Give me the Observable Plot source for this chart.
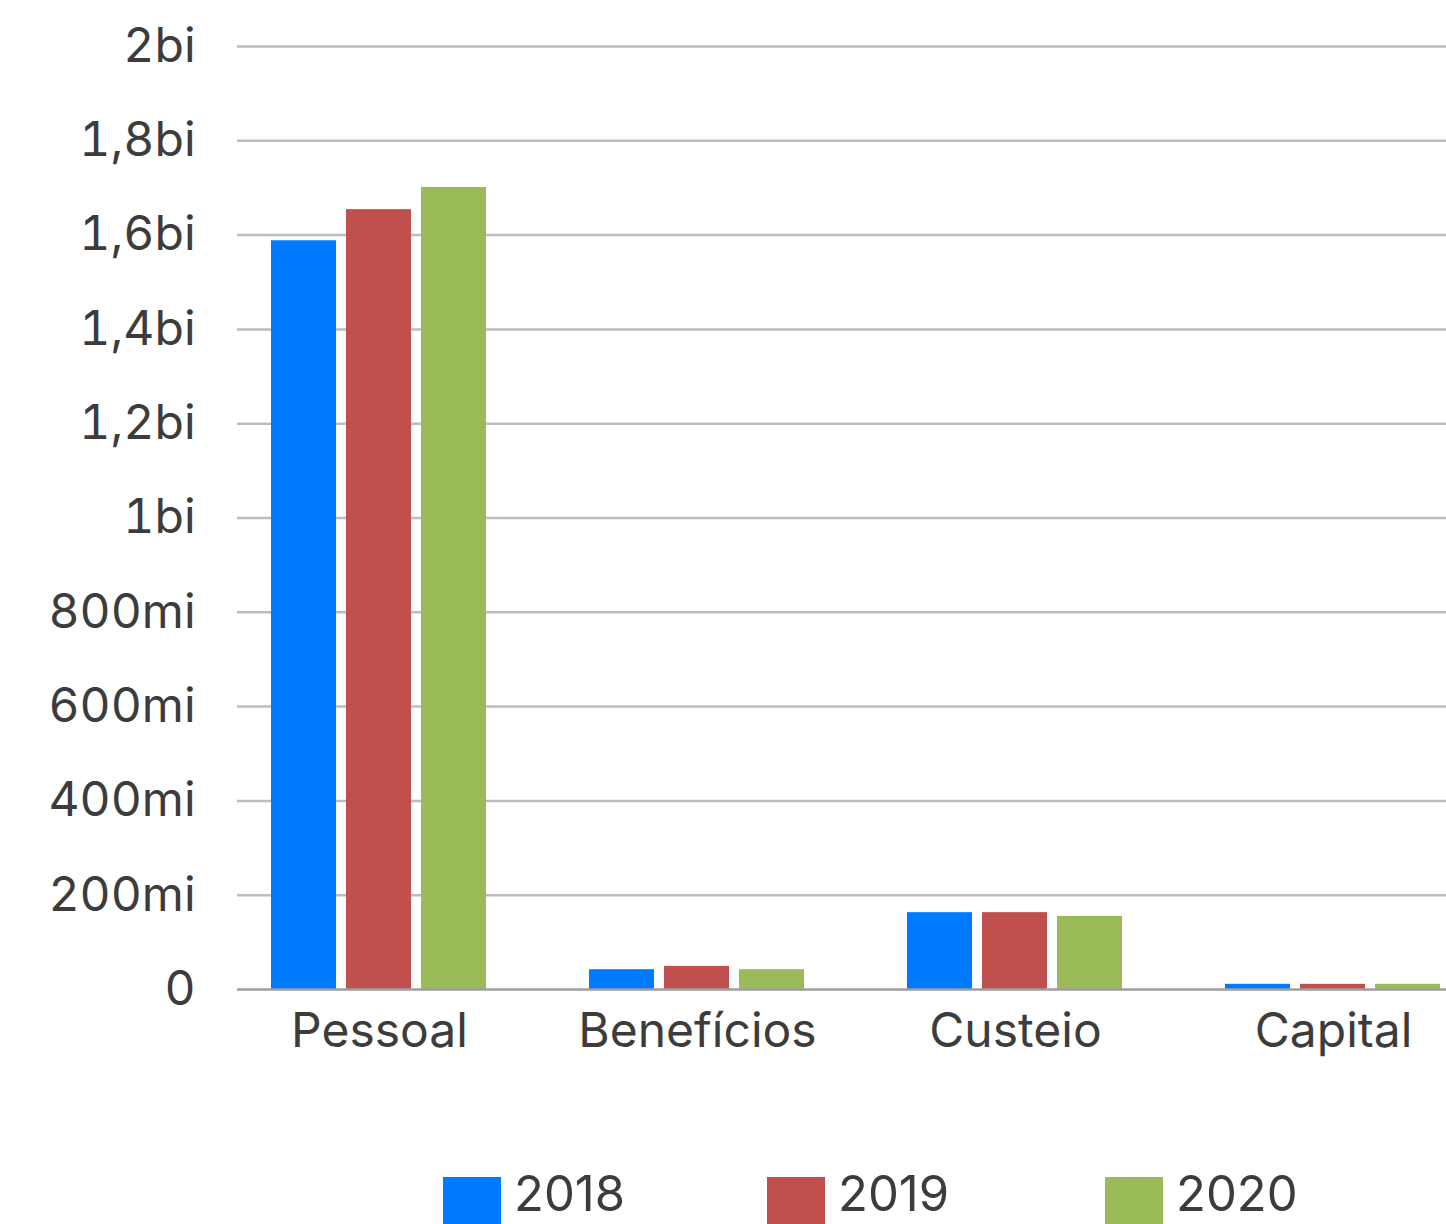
<!DOCTYPE html>
<html>
<head>
<meta charset="utf-8">
<script src="https://cdn.jsdelivr.net/npm/d3@7"></script>
<script src="https://cdn.jsdelivr.net/npm/@observablehq/plot@0.6"></script>
<style>
  html, body { margin: 0; padding: 0; background: #fff; }
  body { width: 1446px; height: 1224px; overflow: hidden; font-family: "Inter", "Roboto", sans-serif; color: #3c3c3c; }
  #chart { width: 1446px; height: 1100px; overflow: hidden; }
  #legend { position: relative; height: 124px; }
  .item { position: absolute; top: 77px; display: flex; align-items: flex-start; }
  .sw { width: 58px; height: 47px; }
  .lbl { font-size: 49px; line-height: 58px; height: 58px; margin-left: 13px; margin-top: -12px; color: #3c3c3c; }
</style>
</head>
<body>
<div id="chart"></div>
<div id="legend"></div>
<script>
const categories = ["Pessoal", "Benefícios", "Custeio", "Capital"];
const years = ["2018", "2019", "2020"];
const colors = ["#007bff", "#c0504e", "#9bbb59"];
const pessoal = [1588e6, 1654e6, 1701e6];
const beneficios = [42e6, 49e6, 42e6];
const custeio = [163e6, 163e6, 155e6];
const capital = [11e6, 11e6, 11e6];
const yTicks = [0, 2e8, 4e8, 6e8, 8e8, 1e9, 1.2e9, 1.4e9, 1.6e9, 1.8e9, 2e9];
const yTickLabels = ["0", "200mi", "400mi", "600mi", "800mi", "1bi", "1,2bi", "1,4bi", "1,6bi", "1,8bi", "2bi"];

const series = [pessoal, beneficios, custeio, capital];
const rows = [];
categories.forEach((c, i) => years.forEach((y, j) => rows.push({cat: c, year: y, value: series[i][j]})));

const gridFirst = yTicks.filter(v => v > 0).map(v => ({cat: categories[0], v}));
const gridRest = categories.slice(1).flatMap(c => yTicks.filter(v => v > 0).map(v => ({cat: c, v})));
const baseFirst = [{cat: categories[0], v: 0}];
const baseRest = categories.slice(1).map(c => ({cat: c, v: 0}));

const fmt = v => yTickLabels[yTicks.indexOf(v)];

const chart = Plot.plot({
  width: 1492,
  height: 1100,
  marginLeft: 220,
  marginRight: 0,
  marginTop: 46,
  marginBottom: 111,
  style: {fontFamily: "Inter, Roboto, sans-serif", fontSize: "48px", color: "#3c3c3c", background: "transparent", overflow: "visible"},
  fx: {domain: categories, padding: 0, label: null, axis: "bottom", tickSize: 0, tickPadding: 23},
  x: {domain: years, paddingInner: 0.1316, paddingOuter: 0.658, axis: null},
  y: {domain: [0, 2e9], ticks: yTicks, tickFormat: fmt, tickSize: 0, tickPadding: 25, label: null},
  color: {domain: years, range: colors},
  marks: [
    Plot.ruleY(gridFirst, {fx: "cat", y: "v", stroke: "#bdbdbd", strokeWidth: 2.5, insetLeft: 17}),
    Plot.ruleY(gridRest, {fx: "cat", y: "v", stroke: "#bdbdbd", strokeWidth: 2.5}),
    Plot.barY(rows, {fx: "cat", x: "year", y: "value", fill: "year"}),
    Plot.ruleY(baseFirst, {fx: "cat", y: "v", stroke: "#9e9e9e", strokeWidth: 2.5, insetLeft: 17}),
    Plot.ruleY(baseRest, {fx: "cat", y: "v", stroke: "#9e9e9e", strokeWidth: 2.5})
  ]
});
chart.style.maxWidth = "none";
chart.style.width = "1492px";
chart.style.height = "1100px";
document.getElementById("chart").append(chart);

const legendLefts = [443, 767, 1105];
const legend = document.getElementById("legend");
years.forEach((y, i) => {
  const it = document.createElement("div");
  it.className = "item";
  it.style.left = legendLefts[i] + "px";
  const sw = document.createElement("div");
  sw.className = "sw";
  sw.style.background = colors[i];
  const lb = document.createElement("div");
  lb.className = "lbl";
  lb.textContent = y;
  it.append(sw, lb);
  legend.append(it);
});
</script>
</body>
</html>
